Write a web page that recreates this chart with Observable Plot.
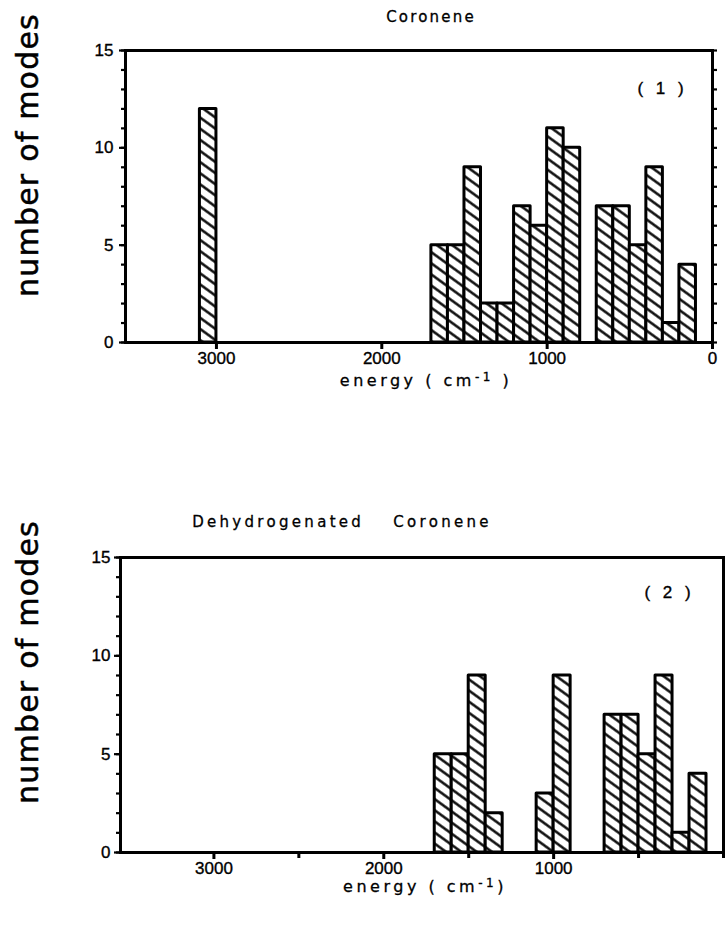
<!DOCTYPE html>
<html><head><meta charset="utf-8">
<script src="https://cdn.jsdelivr.net/npm/d3@7"></script>
<script src="https://cdn.jsdelivr.net/npm/@observablehq/plot@0.6"></script>
<style>
body{margin:0;background:#fff;}
#root{position:relative;width:725px;height:925px;overflow:hidden;font-family:"DejaVu Sans",sans-serif;color:#000;background:#fff;}
#root svg{position:absolute;left:0;}
.t{position:absolute;white-space:nowrap;transform:translate(-50%,-50%);line-height:1;-webkit-text-stroke:0.3px #000;}
.yl{position:absolute;white-space:nowrap;transform:translate(-50%,-50%) rotate(-90deg);line-height:1;font-size:30px;letter-spacing:1.2px;-webkit-text-stroke:0.5px #000;}
sup{font-size:0.75em;vertical-align:0.45em;line-height:0;}
</style></head><body><div id="root"></div>
<script>
// Energy bins (cm-1) and number of modes
const binLo1 = [3000, 1600, 1500, 1400, 1300, 1200, 1100, 1000, 900, 800, 600, 500, 400, 300, 200, 100];
const binHi1 = [3100, 1700, 1600, 1500, 1400, 1300, 1200, 1100, 1000, 900, 700, 600, 500, 400, 300, 200];
const modes1 = [12, 5, 5, 9, 2, 2, 7, 6, 11, 10, 7, 7, 5, 9, 1, 4];

const binLo2 = [1600, 1500, 1400, 1300, 1000, 900, 600, 500, 400, 300, 200, 100];
const binHi2 = [1700, 1600, 1500, 1400, 1100, 1000, 700, 600, 500, 400, 300, 200];
const modes2 = [5, 5, 9, 2, 3, 9, 7, 7, 5, 9, 1, 4];

const yMajor = [0, 5, 10, 15];
const yMinor = d3.range(0, 16);
const xTicks1 = [3000, 2000, 1000, 0];
const xLabels2 = [3000, 2000, 1000];
const xMinor2 = [2500, 1500, 500, 0];

const titles = ["Coronene", "Dehydrogenated\u2003\u2002Coronene"];
const panelTags = ["(\u00a01\u00a0)", "(\u00a02\u00a0)"];

const root = document.getElementById("root");

function panel(cfg) {
  const data = cfg.lo.map((d, i) => ({lo: d, hi: cfg.hi[i], n: cfg.n[i]}));
  const marks = [
    Plot.rectY(data, {x1: "lo", x2: "hi", y: "n", fill: `url(#${cfg.id})`, stroke: "black", strokeWidth: 3, strokeLinejoin: "round"}),
    Plot.frame({stroke: "black", strokeWidth: 3}),
    Plot.axisY({ticks: yMinor, tickSize: 4, tickFormat: () => "", strokeWidth: 2.2, label: null}),
    Plot.axisY({ticks: yMajor, tickSize: 6, tickPadding: cfg.yPad, fontSize: 17, strokeWidth: 2.2, label: null}),
    Plot.axisY({anchor: "right", ticks: yMinor, tickSize: 4, tickFormat: () => "", strokeWidth: 2.2, label: null}),
    Plot.axisX({ticks: cfg.xTicks, tickSize: 7, tickPadding: 2, fontSize: 17, strokeWidth: 3, tickFormat: d => String(d), label: null}),
    Plot.text([cfg.tag], {frameAnchor: "top-right", textAnchor: "middle", lineAnchor: "middle", dx: cfg.tagDx, dy: cfg.tagDy, fontSize: 17})
  ];
  if (cfg.xMinor) marks.push(Plot.axisX({ticks: cfg.xMinor, tickSize: 6, tickFormat: () => "", strokeWidth: 3, label: null}));
  const svg = Plot.plot({
    width: 725, height: cfg.height,
    marginLeft: cfg.ml, marginRight: cfg.mr, marginTop: cfg.mt, marginBottom: cfg.mb,
    x: {domain: [3550, 0], axis: null},
    y: {domain: [0, 15], axis: null},
    style: {fontFamily: "'Liberation Sans', Arial, sans-serif", fontSize: "17px", background: "transparent", color: "black", overflow: "visible"},
    marks
  });
  d3.select(svg).insert("defs", ":first-child").html(
    `<pattern id="${cfg.id}" patternUnits="userSpaceOnUse" width="9" height="9" patternTransform="rotate(36)">
       <rect width="9" height="9" fill="white"/>
       <line x1="-1" y1="4.5" x2="10" y2="4.5" stroke="black" stroke-width="2.4"/>
     </pattern>`);
  d3.select(svg).selectAll("g[aria-label=rect] rect").attr("fill", `url(#${cfg.id})`);
  d3.select(svg).selectAll("g[aria-label='y-axis tick label'] text, g[aria-label='x-axis tick label'] text, g[aria-label=text] text")
    .attr("stroke", "black").attr("stroke-width", 0.35);
  d3.select(svg).selectAll("g[aria-label=text] text").style("letter-spacing", "4px");
  svg.style.top = cfg.top + "px";
  root.appendChild(svg);
}

panel({id: "hatch1", lo: binLo1, hi: binHi1, n: modes1, top: 0, height: 400, ml: 125, mr: 13, mt: 50, mb: 58,
  xTicks: xTicks1, yPad: 6, tag: panelTags[0], tagDx: -50, tagDy: 38});
panel({id: "hatch2", lo: binLo2, hi: binHi2, n: modes2, top: 500, height: 425, ml: 120, mr: 2, mt: 57, mb: 73,
  xTicks: xLabels2, xMinor: xMinor2, yPad: 4, tag: panelTags[1], tagDx: -54, tagDy: 35});

function addText(cls, html, x, y, style) {
  const d = document.createElement("div");
  d.className = cls;
  d.innerHTML = html;
  d.style.left = x + "px";
  d.style.top = y + "px";
  Object.assign(d.style, style || {});
  root.appendChild(d);
}
addText("t", titles[0], 431, 17, {fontSize: "15px", letterSpacing: "2.2px"});
addText("t", titles[1], 342, 522, {fontSize: "15px", letterSpacing: "3.3px"});
addText("t", "energy ( cm<sup>-1</sup> )", 426, 381, {fontSize: "16px", letterSpacing: "3.5px"});
addText("t", "energy ( cm<sup>-1</sup>)", 425, 887, {fontSize: "16px", letterSpacing: "3.5px"});
addText("yl", "number of modes", 28, 155);
addText("yl", "number of modes", 28, 662);
</script></body></html>
